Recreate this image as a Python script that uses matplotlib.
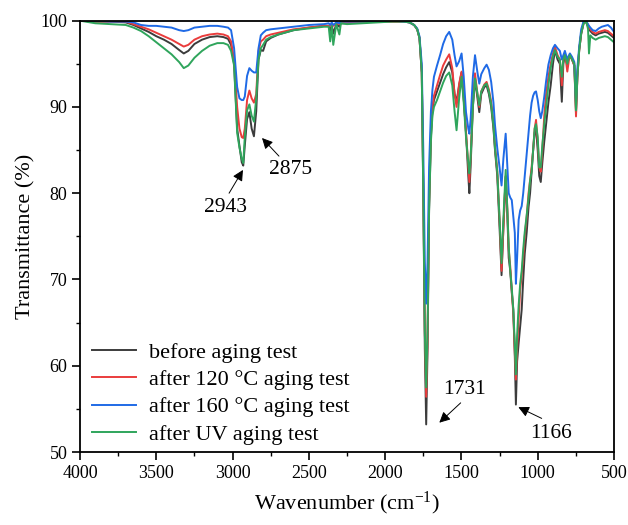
import matplotlib
matplotlib.use("Agg")
import matplotlib.pyplot as plt
from matplotlib.ticker import MultipleLocator

plt.rcParams['font.family'] = ['Liberation Serif', 'DejaVu Serif']
plt.rcParams['mathtext.fontset'] = 'custom'
plt.rcParams['mathtext.rm'] = 'Liberation Serif'
plt.rcParams['mathtext.it'] = 'Liberation Serif:italic'

# wavenumber grid (cm-1)
wn = [4000, 3900, 3800, 3700, 3650, 3600, 3550, 3500, 3450, 3400, 3350, 3320, 3290, 3250, 3200,
      3150, 3100, 3060, 3030, 3010, 2990, 2970, 2955, 2940, 2930, 2920, 2905, 2890, 2875, 2860,
      2845, 2830, 2815, 2800, 2780, 2750, 2700, 2600, 2500, 2400, 2370, 2360, 2350, 2340, 2320,
      2300, 2290, 2250, 2150, 2050, 1950, 1880, 1840, 1810, 1790, 1775, 1760, 1750, 1740, 1731,
      1722, 1712, 1700, 1690, 1680, 1660, 1640, 1620, 1600, 1580, 1560, 1545, 1532, 1515, 1499,
      1485, 1470, 1455, 1448, 1440, 1425, 1411, 1395, 1383, 1370, 1350, 1335, 1320, 1305, 1290,
      1280, 1265, 1250, 1237, 1225, 1210, 1200, 1190, 1180, 1170, 1160, 1150, 1143, 1135, 1125,
      1115, 1105, 1095, 1085, 1072, 1060, 1050, 1040, 1030, 1020, 1011, 1000, 990, 980, 970,
      957, 945, 930, 915, 900, 887, 870, 855, 842, 832, 822, 806, 795, 789, 775,
      760, 749, 740, 728, 715, 700, 690, 680, 670, 664, 655, 640, 620, 600, 580,
      560, 540, 520, 500]

before = [100, 99.9, 99.9, 99.8, 99.5, 99.1, 98.7, 98.2, 97.8, 97.3, 96.6, 96.2, 96.5, 97.3, 97.8,
          98.1, 98.2, 98.1, 97.9, 97.2, 95.0, 87.5, 85.5, 83.6, 83.2, 85.5, 88.6, 89.4, 87.5, 86.6,
          89.5, 95.5, 96.6, 96.5, 97.6, 98.0, 98.4, 98.9, 99.2, 99.4, 99.4, 98.8, 99.5, 98.5, 99.6,
          99.3, 99.7, 99.7, 99.8, 99.9, 99.9, 99.9, 99.8, 99.5, 99.0, 98.0, 94.0, 80.0, 62.0, 53.2,
          62.0, 78.0, 86.5, 89.5, 90.8, 91.8, 92.8, 93.8, 94.6, 95.2, 94.0, 91.5, 90.6, 92.5, 94.0,
          91.0, 87.0, 82.0, 80.0, 83.0, 90.0, 93.2, 91.0, 89.4, 91.5, 92.3, 92.5, 91.5, 90.0, 87.5,
          85.0, 82.0, 76.0, 70.5, 76.0, 81.9, 78.0, 72.5, 71.0, 68.5, 66.5, 61.0, 55.5, 60.5, 62.6,
          64.5, 66.5, 70.0, 73.0, 75.5, 78.4, 80.0, 82.5, 85.0, 87.0, 87.5, 85.0, 82.0, 81.3, 83.5,
          86.0, 88.0, 90.5, 92.5, 95.0, 96.6, 95.5, 95.0, 90.6, 95.0, 96.0, 95.0, 95.8, 96.0, 95.5,
          94.8, 89.3, 93.5, 96.6, 98.5, 99.7, 99.9, 99.7, 99.3, 99.0, 98.8, 98.5, 98.3, 98.5, 98.6,
          98.7, 98.6, 98.3, 98.0]

after120 = [100, 99.9, 99.9, 99.9, 99.6, 99.3, 99.0, 98.6, 98.2, 97.8, 97.3, 97.0, 97.2, 97.8, 98.2,
            98.4, 98.5, 98.4, 98.2, 97.6, 95.5, 90.0, 87.5, 86.5, 86.4, 87.5, 90.8, 91.9, 91.0, 90.5,
            91.5, 96.5, 97.6, 97.8, 98.2, 98.4, 98.6, 99.0, 99.2, 99.4, 99.4, 99.4, 99.6, 99.4, 99.7,
            99.6, 99.8, 99.7, 99.8, 99.9, 99.9, 99.9, 99.8, 99.5, 99.0, 98.0, 94.0, 81.0, 64.0, 56.4,
            63.0, 79.0, 87.0, 90.0, 91.3, 92.5, 93.7, 94.8, 95.5, 96.1, 94.5, 91.5, 90.0, 92.7, 94.1,
            91.0, 87.0, 83.0, 81.3, 84.0, 90.5, 93.9, 91.5, 90.0, 91.8, 92.6, 92.9, 92.0, 90.6, 88.0,
            85.5, 82.5, 77.0, 71.0, 76.0, 82.0, 78.5, 73.5, 71.5, 68.8, 66.0, 61.5, 58.4, 62.0, 65.5,
            68.8, 70.5, 72.6, 75.0, 77.3, 80.0, 81.5, 83.0, 85.0, 87.5, 88.5, 86.0, 83.0, 82.5, 85.0,
            89.0, 91.5, 93.5, 95.0, 96.2, 97.0, 96.0, 95.5, 92.5, 95.5, 96.2, 94.1, 95.5, 96.0, 95.5,
            94.8, 88.9, 93.5, 96.6, 98.5, 99.7, 99.9, 99.8, 99.5, 99.3, 99.0, 98.7, 98.5, 98.7, 98.8,
            98.9, 98.8, 98.5, 98.2]

after160 = [100, 100, 99.9, 99.9, 99.8, 99.5, 99.4, 99.4, 99.3, 99.2, 98.9, 98.8, 98.9, 99.2, 99.3,
            99.4, 99.4, 99.3, 99.2, 98.9, 96.8, 92.3, 91.0, 90.8, 90.8, 91.2, 93.6, 94.5, 94.2, 94.0,
            94.0, 96.8, 98.3, 98.6, 98.9, 99.0, 99.1, 99.3, 99.5, 99.6, 99.7, 99.5, 99.8, 99.5, 99.8,
            99.7, 99.9, 99.9, 99.9, 100, 100, 99.9, 99.8, 99.5, 99.1, 98.2, 95.0, 85.0, 72.0, 67.2,
            72.0, 83.0, 89.5, 92.0, 93.5, 94.8, 96.0, 97.3, 98.2, 98.7, 97.8, 96.0, 94.7, 95.3, 96.2,
            93.5, 89.4, 87.5, 86.9, 88.5, 93.5, 96.0, 94.0, 92.7, 93.8, 94.5, 94.9, 94.3, 92.9, 90.5,
            87.9, 85.2, 83.0, 80.9, 84.0, 86.9, 83.5, 80.0, 79.5, 79.2, 77.3, 75.4, 69.5, 72.5, 76.9,
            78.0, 78.5, 80.0, 82.0, 84.5, 87.0, 89.0, 90.5, 91.3, 91.7, 91.8, 90.8, 89.5, 88.7, 89.5,
            91.2, 93.0, 94.9, 96.0, 96.8, 97.2, 96.8, 96.5, 95.5, 96.0, 96.5, 95.5, 96.0, 96.2, 95.8,
            95.2, 90.5, 94.5, 97.0, 99.0, 99.9, 100.0, 99.9, 99.6, 99.4, 99.2, 98.9, 98.8, 99.1, 99.3,
            99.4, 99.5, 99.2, 98.7]

after_uv = [100, 99.7, 99.6, 99.5, 99.2, 98.8, 98.2, 97.5, 96.8, 96.1, 95.2, 94.5, 94.8, 95.7, 96.5,
            97.1, 97.4, 97.4, 97.2, 96.5, 94.8, 87.0, 85.3, 84.0, 83.5, 86.5, 89.6, 90.3, 89.0, 88.3,
            91.0, 95.5, 96.8, 97.2, 97.8, 98.1, 98.4, 98.9, 99.1, 99.3, 99.3, 97.6, 99.4, 97.2, 99.6,
            98.4, 99.7, 99.6, 99.7, 99.8, 99.9, 99.9, 99.8, 99.5, 99.0, 98.0, 94.0, 80.0, 64.0, 57.5,
            64.0, 78.0, 86.0, 89.0, 90.0, 90.8, 91.8, 92.8, 93.6, 94.0, 92.5, 89.5, 87.3, 91.0, 93.5,
            90.5, 86.5, 83.5, 82.3, 84.0, 90.0, 93.3, 91.5, 90.2, 91.8, 92.5, 92.7, 91.8, 90.3, 87.8,
            85.2, 82.5, 77.0, 71.9, 77.0, 82.7, 78.5, 73.8, 71.0, 69.0, 66.5, 62.5, 59.0, 63.5, 67.0,
            69.5, 71.0, 73.5, 75.5, 77.5, 79.5, 81.5, 82.5, 85.0, 87.5, 88.0, 86.5, 83.0, 83.0, 85.5,
            88.0, 90.0, 92.5, 94.5, 95.8, 96.6, 95.8, 95.5, 93.5, 95.5, 96.0, 95.0, 95.8, 96.0, 95.5,
            95.0, 89.6, 93.5, 96.6, 98.5, 99.6, 99.9, 99.8, 99.0, 96.2, 98.3, 98.0, 97.8, 98.0, 98.1,
            98.2, 98.1, 97.8, 97.5]

labels = ['before aging test', 'after 120 \u00b0C aging test',
          'after 160 \u00b0C aging test', 'after UV aging test']
colors = ['#3c3c3c', '#ea3c3c', '#1f6ae6', '#2fa55c']

# peak labels: (text, text pos, arrow tail, arrow head)
peaks = [('2943', (3046, 78.4), (3023, 80.0), (2932, 82.7)),
         ('2875', (2620, 82.7), (2696, 84.3), (2807, 86.4)),
         ('1731', (1480, 57.3), (1505, 55.7), (1645, 53.4)),
         ('1166', (913, 52.1), (974, 53.9), (1127, 55.2))]

fig = plt.figure(figsize=(6.28, 5.25), dpi=100)
ax = fig.add_axes([0.1274, 0.139, 0.8503, 0.8216])

for y, lab, c in zip([before, after120, after160, after_uv], labels, colors):
    ax.plot(wn, y, color=c, lw=1.4, label=lab)

for txt, tpos, tail, head in peaks:
    ax.annotate('', xy=head, xytext=tail,
                arrowprops=dict(arrowstyle='-|>', color='black', lw=0.7,
                                mutation_scale=16, shrinkA=0, shrinkB=0))
    ax.text(tpos[0], tpos[1], txt, fontsize=15.5, ha='center', va='center')

ax.set_xlim(4000, 500)
ax.set_ylim(50, 100)
ax.xaxis.set_major_locator(MultipleLocator(500))
ax.xaxis.set_minor_locator(MultipleLocator(250))
ax.yaxis.set_major_locator(MultipleLocator(10))
ax.yaxis.set_minor_locator(MultipleLocator(5))
ax.tick_params(which='major', direction='out', length=5.5, width=1.2, labelsize=13)
ax.tick_params(which='minor', direction='out', length=3, width=1.0)
for s in ax.spines.values():
    s.set_linewidth(1.3)

ax.set_xlabel('Wavenumber (cm$^{-1}$)', fontsize=16, labelpad=6)
ax.set_ylabel('Transmittance (%)', fontsize=16, labelpad=4)

ax.legend(loc='lower left', bbox_to_anchor=(0.0225, 0.017), frameon=False,
          fontsize=16, handlelength=2.0, handletextpad=0.55, labelspacing=0.30,
          borderpad=0, borderaxespad=0)

fig.savefig('out.png', dpi=100)
